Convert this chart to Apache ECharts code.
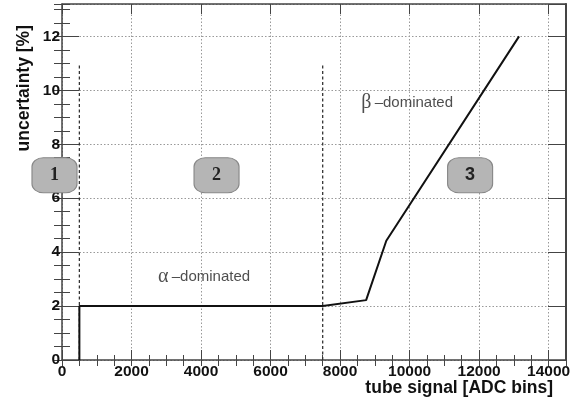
<!DOCTYPE html>
<html>
<head>
<meta charset="utf-8">
<script src="https://cdn.jsdelivr.net/npm/echarts@6/dist/echarts.min.js"></script>
<style>
html,body{margin:0;padding:0;background:#fff;}
#chart{width:578px;height:408px;}
</style>
</head>
<body>
<div id="chart"></div>
<script>
// ---- data ----
const signal = [500, 500, 7500, 8750, 9330, 13150];
const uncertainty = [0, 2, 2, 2.22, 4.42, 12];
const boundaryX = [500, 7500];
const boundaryTop = 11;
const regionNames = ['1', '2', '3'];
const regionX = [-216, 4446, 11741];
const regionY = [6.85, 6.85, 6.85];
const textNames = ['α', 'β'];
const textX = [4086, 9928];
const textY = [3.07, 9.52];
const xTickLabels = ['0','2000','4000','6000','8000','10000','12000','14000'];
const yTickLabels = ['0','2','4','6','8','10','12'];

const xMin = 0, xMax = 14500, yMin = 0, yMax = 13.2;

const chart = echarts.init(document.getElementById('chart'), null, {renderer: 'canvas'});
const frameColor = '#444';
const labelFont = {fontFamily: 'Liberation Sans, Arial, sans-serif', fontWeight: 'bold', fontSize: 15.5, color: '#111'};
const boxFonts = ['Liberation Serif, serif', 'Liberation Serif, serif', 'Liberation Sans, Arial, sans-serif'];

function xAx(opts) {
  return Object.assign({
    type: 'value', min: xMin, max: xMax, gridIndex: 0,
    axisLine: {show: false},
    axisLabel: {show: false},
    axisTick: {show: false},
    splitLine: {show: false}
  }, opts);
}
function yAx(opts) {
  return Object.assign({
    type: 'value', min: yMin, max: yMax, gridIndex: 0,
    axisLine: {show: false},
    axisLabel: {show: false},
    axisTick: {show: false},
    splitLine: {show: false}
  }, opts);
}

const option = {
  animation: false,
  grid: {left: 62, right: 12, top: 4, bottom: 48, containLabel: false},
  xAxis: [
    xAx({position: 'bottom', interval: 2000,
      axisLine: {show: true, onZero: false, lineStyle: {color: frameColor, width: 1.5}},
      axisTick: {show: true, inside: true, length: 10, lineStyle: {color: frameColor, width: 1}},
      axisLabel: Object.assign({show: true, margin: 4, showMaxLabel: false,
        formatter: v => { const i = Math.round(v / 2000); return (v % 2000 === 0 && xTickLabels[i] !== undefined) ? xTickLabels[i] : ''; }}, labelFont),
      splitLine: {show: true, lineStyle: {type: [1.5, 2], color: '#999', width: 1}}
    }),
    xAx({position: 'bottom', interval: 500,
      axisTick: {show: true, inside: true, length: 5, lineStyle: {color: frameColor, width: 1}}}),
    xAx({position: 'top', interval: 2000,
      axisLine: {show: true, onZero: false, lineStyle: {color: frameColor, width: 1.5}},
      axisTick: {show: true, inside: true, length: 10, lineStyle: {color: frameColor, width: 1}}}),
    xAx({position: 'top', interval: 500,
      axisTick: {show: true, inside: true, length: 6, lineStyle: {color: frameColor, width: 1}}})
  ],
  yAxis: [
    yAx({position: 'left', interval: 2,
      axisLine: {show: true, onZero: false, lineStyle: {color: frameColor, width: 1.5}},
      axisTick: {show: true, inside: true, length: 17, lineStyle: {color: frameColor, width: 1}},
      axisLabel: Object.assign({show: true, margin: 2, showMaxLabel: false,
        formatter: v => { const i = Math.round(v / 2); return (Math.abs(v - i * 2) < 1e-6 && yTickLabels[i] !== undefined) ? yTickLabels[i] : ''; }}, labelFont),
      splitLine: {show: true, lineStyle: {type: [1.5, 2], color: '#999', width: 1}}
    }),
    yAx({position: 'left', interval: 0.5,
      axisTick: {show: true, inside: true, length: 8, lineStyle: {color: frameColor, width: 1}}}),
    yAx({position: 'right', interval: 2,
      axisLine: {show: true, onZero: false, lineStyle: {color: frameColor, width: 2}},
      axisTick: {show: true, inside: true, length: 18, lineStyle: {color: frameColor, width: 1}}}),
    yAx({position: 'right', interval: 0.5,
      axisTick: {show: true, inside: true, length: 8, lineStyle: {color: frameColor, width: 1}}})
  ],
  series: [
    {
      type: 'line', xAxisIndex: 0, yAxisIndex: 0,
      data: signal.map((x, i) => [x, uncertainty[i]]),
      symbol: 'none', lineStyle: {color: '#111', width: 2}, z: 5
    },
    ...boundaryX.map(bx => ({
      type: 'line', xAxisIndex: 0, yAxisIndex: 0,
      data: [[bx, 0], [bx, boundaryTop]],
      symbol: 'none', lineStyle: {color: '#333', width: 1.3, type: [3, 2.5]}, z: 4
    })),
    {
      type: 'scatter', xAxisIndex: 0, yAxisIndex: 0, clip: false,
      data: regionNames.map((n, i) => ({value: [regionX[i], regionY[i]], name: n,
        label: {fontFamily: boxFonts[i]}})),
      symbol: 'roundRect', symbolSize: [45, 35],
      itemStyle: {color: '#b5b5b5', borderColor: '#888', borderWidth: 1, opacity: 1},
      label: {show: true, position: 'inside', formatter: p => p.name,
        fontWeight: 'bold', fontSize: 18, color: '#222'},
      z: 6
    },
    {
      type: 'scatter', xAxisIndex: 0, yAxisIndex: 0, clip: false,
      data: textNames.map((n, i) => ({value: [textX[i], textY[i]], name: n})),
      symbolSize: 0,
      label: {show: true, position: 'inside', formatter: p => '{g|' + p.name + '} {t|–dominated}',
        rich: {
          g: {fontFamily: 'Liberation Serif, serif', fontSize: 20, color: '#222'},
          t: {fontFamily: 'Liberation Sans, Arial, sans-serif', fontSize: 15, color: '#222'}
        }},
      z: 6
    }
  ],
  graphic: [
    {type: 'text', x: 24, y: 25, rotation: Math.PI / 2,
      style: {text: 'uncertainty [%]', align: 'right', verticalAlign: 'middle',
        font: 'bold 17.5px "Liberation Sans", Arial, sans-serif', fill: '#111'}},
    {type: 'text', x: 553, y: 388,
      style: {text: 'tube signal [ADC bins]', align: 'right', verticalAlign: 'middle',
        font: 'bold 17.5px "Liberation Sans", Arial, sans-serif', fill: '#111'}}
  ]
};
chart.setOption(option);
</script>
</body>
</html>
